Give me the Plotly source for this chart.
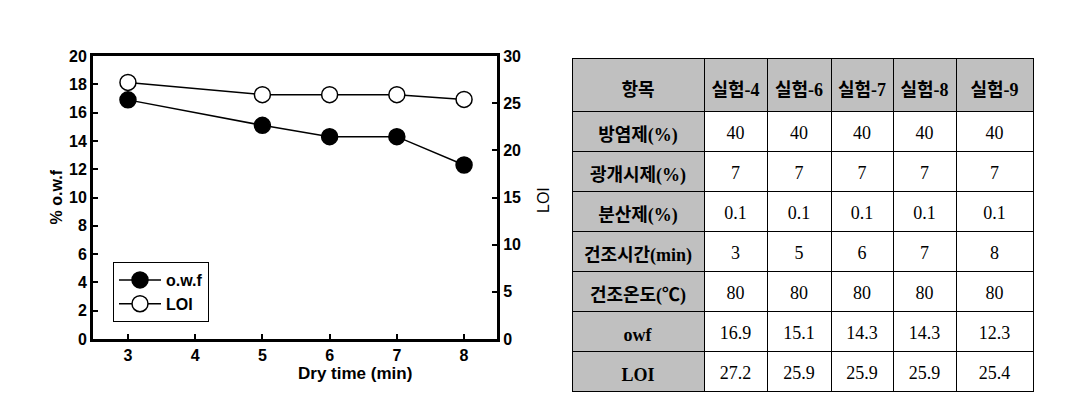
import plotly.graph_objects as go

# ---- data ----
dry_time = [3, 5, 6, 7, 8]
owf = [16.9, 15.1, 14.3, 14.3, 12.3]
loi = [27.2, 25.9, 25.9, 25.9, 25.4]

table_header = ["항목", "실험-4", "실험-6", "실험-7", "실험-8", "실험-9"]
row_labels = ["방염제(%)", "광개시제(%)", "분산제(%)", "건조시간(min)", "건조온도(℃)", "owf", "LOI"]
exp4 = ["40", "7", "0.1", "3", "80", "16.9", "27.2"]
exp6 = ["40", "7", "0.1", "5", "80", "15.1", "25.9"]
exp7 = ["40", "7", "0.1", "6", "80", "14.3", "25.9"]
exp8 = ["40", "7", "0.1", "7", "80", "14.3", "25.9"]
exp9 = ["40", "7", "0.1", "8", "80", "12.3", "25.4"]

W, H = 1069, 403
def px(x):
    return x / W
def py(y):
    return 1 - y / H

AX_FONT = dict(family="Liberation Sans, Arial, sans-serif", size=16, color="black", weight="bold")
SERIF = "Liberation Serif, Times New Roman, Noto Sans CJK KR, serif"
GRAY = "#c0c0c0"
COLW = [132, 63, 64, 62, 63, 77]

fig = go.Figure()
fig.add_trace(go.Scatter(
    x=dry_time, y=owf, name="o.w.f", mode="lines+markers",
    line=dict(color="black", width=1.5),
    marker=dict(symbol="circle", size=16, color="black", line=dict(color="black", width=1.5)),
))
fig.add_trace(go.Scatter(
    x=dry_time, y=loi, name="LOI", mode="lines+markers", yaxis="y2",
    line=dict(color="black", width=1.5),
    marker=dict(symbol="circle", size=16, color="white", line=dict(color="black", width=1.5)),
))

n = len(row_labels)
first_col = ["<b>%s</b>" % s for s in row_labels]
cols = [first_col, exp4, exp6, exp7, exp8, exp9]
hdr = ["<b>%s</b>" % s for s in table_header]
fills = [[GRAY] * n] + [["white"] * n] * 5
blank_cols = [[""] * n for _ in cols]

# grid (fills + borders)
fig.add_trace(go.Table(
    domain=dict(x=[px(572), px(1033)], y=[py(400), py(58)]),
    columnwidth=COLW,
    header=dict(values=[""] * len(hdr), fill_color=GRAY, height=53,
                line=dict(color="black", width=1)),
    cells=dict(values=blank_cols, fill_color=fills, height=40,
               line=dict(color="black", width=1)),
))
# text layer, shifted so text sits vertically centred in the grid cells
fig.add_trace(go.Table(
    domain=dict(x=[px(572), px(1033)], y=[py(402), py(58 + 14)]),
    columnwidth=COLW,
    header=dict(values=hdr, fill_color="rgba(0,0,0,0)", align="center", height=45,
                line=dict(color="rgba(0,0,0,0)", width=0),
                font=dict(family=SERIF, size=18, color="black")),
    cells=dict(values=cols, fill_color="rgba(0,0,0,0)", align="center", height=40,
               line=dict(color="rgba(0,0,0,0)", width=0),
               font=dict(family=SERIF, size=18, color="black")),
))

fig.update_layout(
    width=W, height=H,
    margin=dict(l=0, r=0, t=0, b=0, autoexpand=False),
    paper_bgcolor="white", plot_bgcolor="white",
    showlegend=True,
    legend=dict(x=px(113), y=py(262), xanchor="left", yanchor="top",
                bordercolor="black", borderwidth=1, bgcolor="white",
                font=AX_FONT, tracegroupgap=0, itemwidth=42),
    xaxis=dict(domain=[px(93), px(497)], range=[2.48, 8.49], tickmode="array",
               tickvals=[3, 4, 5, 6, 7, 8], ticks="inside", ticklen=5, tickwidth=2,
               tickcolor="black", showline=True, linewidth=3, linecolor="black",
               mirror=True, showgrid=False, zeroline=False, tickfont=AX_FONT),
    yaxis=dict(domain=[py(339), py(56)], range=[0, 20], dtick=2, ticks="inside",
               ticklen=5, tickwidth=2, tickcolor="black", showline=True, linewidth=3,
               linecolor="black", showgrid=False, zeroline=False, tickfont=AX_FONT),
    yaxis2=dict(overlaying="y", side="right", anchor="x", range=[0, 30], dtick=5,
                ticks="inside", ticklen=5, tickwidth=2, tickcolor="black", showline=True,
                linewidth=3, linecolor="black", showgrid=False, zeroline=False,
                tickfont=AX_FONT),
    annotations=[
        dict(text="Dry time (min)", x=px(296), y=py(385), xref="paper", yref="paper",
             showarrow=False, font=dict(family="Liberation Sans, Arial", size=17, color="black", weight="bold")),
        dict(text="% o.w.f", x=px(45), y=py(197), xref="paper", yref="paper", textangle=-90,
             showarrow=False, font=dict(family="Liberation Sans, Arial", size=16, color="black", weight="bold")),
        dict(text="LOI", x=px(543), y=py(200), xref="paper", yref="paper", textangle=-90,
             showarrow=False, font=dict(family="Liberation Sans, Arial", size=16, color="black")),
    ],
)

fig.write_html("out.html")
